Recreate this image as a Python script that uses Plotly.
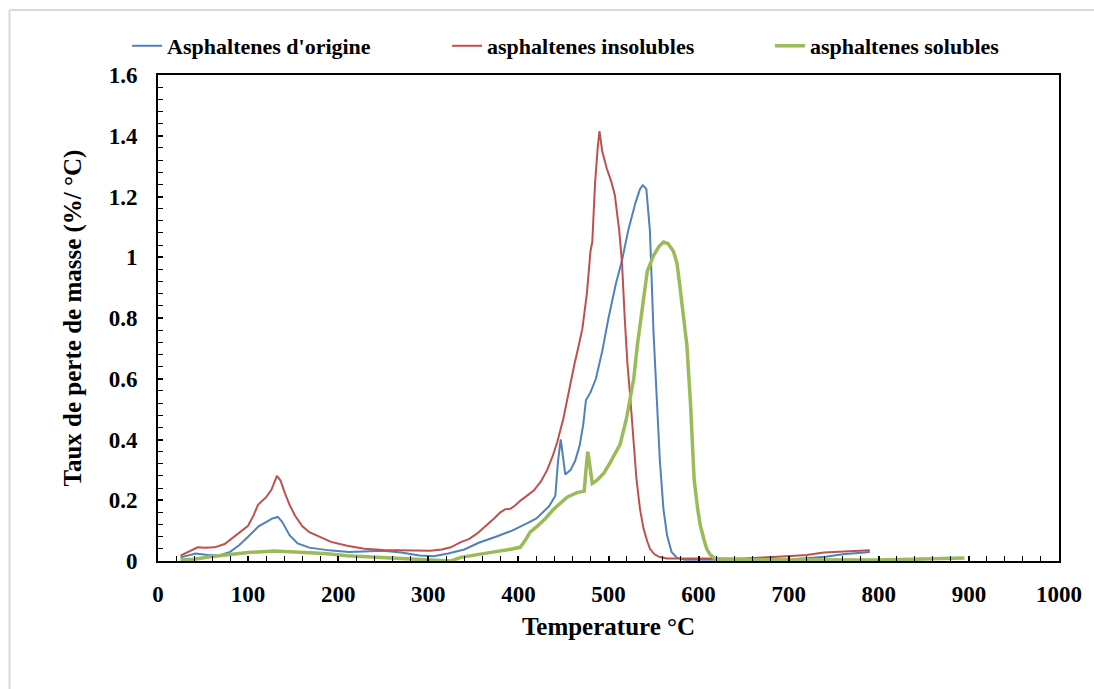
import plotly.graph_objects as go

# Thermogravimetric derivative curves (DTG) of three asphaltene fractions
temp_origine = [25, 33, 42, 55, 68, 80, 90, 100, 112, 120, 127, 133, 138, 146, 155, 168, 190, 212,
                235, 250, 270, 290, 306, 322, 340, 356, 375, 393, 410, 420, 434, 441, 444, 447,
                452, 458, 463, 468, 472, 475, 480, 486, 493, 500, 508, 515, 522, 530, 535, 538,
                542, 546, 550, 553, 557, 561, 565, 570, 576, 585, 620, 700, 741, 760, 790]
dtg_origine = [0.012, 0.018, 0.025, 0.020, 0.018, 0.030, 0.052, 0.080, 0.115, 0.128, 0.140, 0.145,
               0.128, 0.085, 0.058, 0.044, 0.035, 0.030, 0.032, 0.034, 0.028, 0.018, 0.016, 0.025,
               0.038, 0.060, 0.080, 0.100, 0.125, 0.140, 0.180, 0.215, 0.330, 0.400, 0.285, 0.300,
               0.330, 0.380, 0.450, 0.530, 0.555, 0.600, 0.690, 0.800, 0.910, 0.990, 1.090, 1.180,
               1.225, 1.237, 1.225, 1.085, 0.750, 0.550, 0.330, 0.170, 0.085, 0.030, 0.010, 0.004,
               0.004, 0.005, 0.014, 0.022, 0.030]

temp_insolubles = [25, 30, 37, 44, 52, 63, 74, 89, 100, 106, 111, 120, 126, 132, 136, 140, 146, 152,
                   160, 168, 180, 192, 210, 229, 250, 266, 285, 302, 315, 325, 336, 345, 354, 364,
                   373, 380, 385, 391, 396, 402, 410, 417, 425, 432, 438, 443, 450, 456, 462, 467,
                   471, 476, 480, 482, 485, 488, 490, 493, 498, 503, 507, 512, 515, 518, 521, 524,
                   527, 531, 535, 539, 543, 546, 551, 557, 565, 600, 650, 698, 720, 739, 760, 790]
dtg_insolubles = [0.018, 0.025, 0.033, 0.045, 0.044, 0.045, 0.056, 0.090, 0.116, 0.150, 0.185, 0.210,
                  0.235, 0.280, 0.265, 0.230, 0.185, 0.150, 0.115, 0.095, 0.078, 0.063, 0.050, 0.040,
                  0.036, 0.036, 0.034, 0.034, 0.038, 0.045, 0.062, 0.072, 0.090, 0.115, 0.140, 0.160,
                  0.170, 0.172, 0.182, 0.198, 0.215, 0.232, 0.262, 0.300, 0.345, 0.390, 0.470, 0.560,
                  0.645, 0.710, 0.765, 0.880, 1.020, 1.050, 1.240, 1.360, 1.415, 1.350, 1.293, 1.250,
                  1.205, 1.085, 0.980, 0.800, 0.650, 0.545, 0.420, 0.270, 0.170, 0.105, 0.065, 0.040,
                  0.022, 0.013, 0.008, 0.007, 0.008, 0.016, 0.020, 0.028, 0.030, 0.035]

temp_solubles = [25, 40, 63, 80, 100, 129, 155, 185, 210, 250, 284, 296, 310, 325, 336, 355, 373,
                 390, 402, 408, 413, 421, 430, 439, 447, 454, 465, 473, 475, 477, 479, 482, 487,
                 495, 502, 508, 513, 520, 528, 532, 537, 543, 550, 556, 561, 566, 572, 576, 579,
                 583, 587, 591, 595, 599, 602, 606, 609, 613, 617, 625, 700, 800, 860, 880, 895]
dtg_solubles = [0.003, 0.006, 0.016, 0.022, 0.028, 0.033, 0.030, 0.025, 0.017, 0.012, 0.007, 0.006,
                0.003, 0.000, 0.012, 0.020, 0.030, 0.038, 0.045, 0.070, 0.095, 0.115, 0.140, 0.170,
                0.190, 0.210, 0.225, 0.230, 0.300, 0.360, 0.320, 0.255, 0.265, 0.290, 0.325, 0.355,
                0.385, 0.470, 0.600, 0.710, 0.830, 0.953, 1.006, 1.035, 1.050, 1.045, 1.020, 0.980,
                0.910, 0.810, 0.710, 0.520, 0.270, 0.170, 0.116, 0.070, 0.040, 0.020, 0.010, 0.004,
                0.003, 0.003, 0.007, 0.008, 0.010]

series_names = ["Asphaltenes d'origine", "asphaltenes insolubles", "asphaltenes solubles"]
x_ticks = [0, 100, 200, 300, 400, 500, 600, 700, 800, 900, 1000]
y_ticks = [0, 0.2, 0.4, 0.6, 0.8, 1.0, 1.2, 1.4, 1.6]
y_tick_text = ["0", "0.2", "0.4", "0.6", "0.8", "1", "1.2", "1.4", "1.6"]

FONT = "Liberation Serif"
BLUE, RED, GREEN = "#4F81BD", "#C0504D", "#9BBB59"

fig = go.Figure()
fig.add_trace(go.Scatter(x=temp_origine, y=dtg_origine, mode="lines", name=series_names[0],
                         line=dict(color=BLUE, width=2), legend="legend"))
fig.add_trace(go.Scatter(x=temp_insolubles, y=dtg_insolubles, mode="lines", name=series_names[1],
                         line=dict(color=RED, width=2), legend="legend2"))
fig.add_trace(go.Scatter(x=temp_solubles, y=dtg_solubles, mode="lines", name=series_names[2],
                         line=dict(color=GREEN, width=3.5), legend="legend3"))

legend_font = dict(family=FONT, size=22, color="black", weight="bold")
legend_common = dict(orientation="h", yanchor="middle", y=1.0597, xanchor="left",
                     font=legend_font, bgcolor="rgba(0,0,0,0)", borderwidth=0,
                     itemwidth=30)

tick_font = dict(family=FONT, size=23, color="black", weight="bold")
title_font = dict(family=FONT, size=25, color="black", weight="bold")

fig.update_layout(
    width=1094, height=689,
    margin=dict(l=158, r=32, t=75, b=128),
    paper_bgcolor="white", plot_bgcolor="white",
    showlegend=True,
    legend=dict(x=-0.0343, **legend_common),
    legend2=dict(x=0.3208, **legend_common),
    legend3=dict(x=0.6792, **legend_common),
    xaxis=dict(
        range=[0, 1000], tickvals=x_ticks, ticks="inside", ticklen=5, tickwidth=1.5,
        tickcolor="black", showline=True, linecolor="black", linewidth=2, mirror=True,
        showgrid=False, zeroline=False, tickfont=tick_font, ticklabelstandoff=11,
        minor=dict(dtick=20, ticks="inside", ticklen=5, tickwidth=1.2, tickcolor="black",
                   showgrid=False),
        title=dict(text="Temperature °C", font=title_font, standoff=12),
    ),
    yaxis=dict(
        range=[0, 1.6], tickvals=y_ticks, ticktext=y_tick_text, ticks="inside", ticklen=5,
        tickwidth=1.5, tickcolor="black", showline=True, linecolor="black", linewidth=2,
        mirror=True, showgrid=False, zeroline=False, tickfont=tick_font, ticklabelstandoff=14,
        minor=dict(dtick=0.04, ticks="inside", ticklen=5, tickwidth=1.2, tickcolor="black",
                   showgrid=False),
        title=dict(text="Taux de perte de masse (%/ °C)", font=title_font, standoff=20),
    ),
    shapes=[
        dict(type="line", xref="paper", yref="paper", x0=-0.1648, x1=1.04, y0=1.1337, y1=1.1337,
             line=dict(color="#d9d9d9", width=2)),
        dict(type="line", xref="paper", yref="paper", x0=-0.1648, x1=-0.1648, y0=1.1337, y1=-0.27,
             line=dict(color="#d9d9d9", width=2)),
    ],
)

fig.write_html("out.html")
